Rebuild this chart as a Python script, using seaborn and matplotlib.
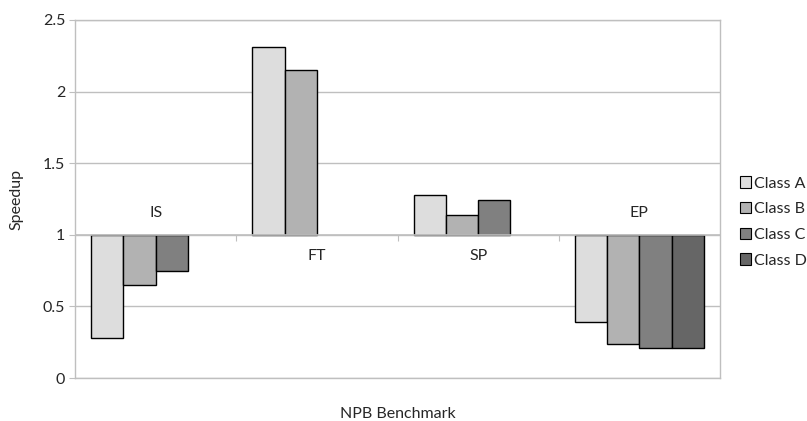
import numpy as np
import pandas as pd
import matplotlib
matplotlib.use("Agg")
import matplotlib.pyplot as plt
from matplotlib.patches import Patch
import seaborn as sns

benchmarks = ["IS", "FT", "SP", "EP"]
classes = ["Class A", "Class B", "Class C", "Class D"]
class_a = [0.28, 2.31, 1.28, 0.39]
class_b = [0.65, 2.15, 1.135, 0.235]
class_c = [0.75, np.nan, 1.24, 0.212]
class_d = [np.nan, np.nan, np.nan, 0.207]
yticks = [0, 0.5, 1, 1.5, 2, 2.5]
ytick_labels = ["0", "0.5", "1", "1.5", "2", "2.5"]
colors = ["#dddddd", "#b2b2b2", "#808080", "#666666"]
baseline = 1.0

rows = []
for cls, vals in zip(classes, [class_a, class_b, class_c, class_d]):
    for b, v in zip(benchmarks, vals):
        if not np.isnan(v):
            rows.append({"Benchmark": b, "Class": cls, "Speedup": v, "Delta": v - baseline})
df = pd.DataFrame(rows)

sns.set_style("white")
plt.rcParams["font.family"] = ["Lato", "DejaVu Sans"]
FS = 11.5

fig = plt.figure(figsize=(8.07, 4.21), dpi=100)
ax = fig.add_axes([75 / 807, 43 / 421, 645 / 807, 358 / 421])

sns.barplot(data=df, x="Benchmark", y="Delta", hue="Class", order=benchmarks,
            hue_order=classes, palette=colors, saturation=1, width=0.8,
            errorbar=None, edgecolor="black", linewidth=1.0, bottom=baseline,
            ax=ax, legend=False, zorder=3)

ax.set_ylim(0, 2.5)
ax.set_xlim(-0.5, 3.5)
ax.set_yticks(yticks)
ax.set_yticklabels(ytick_labels, fontsize=FS)
ax.yaxis.grid(True, color="#bfbfbf", linewidth=1.0, zorder=0)
ax.set_axisbelow(True)
ax.tick_params(axis="y", which="both", left=True, length=4, color="#bfbfbf", pad=3)
ax.set_xticks([])
ax.set_xlabel("NPB Benchmark", fontsize=FS, labelpad=21)
ax.set_ylabel("Speedup", fontsize=FS, labelpad=14)
for s in ax.spines.values():
    s.set_color("#bfbfbf")
    s.set_linewidth(1.0)

# category axis crossing at y = 1
ax.axhline(baseline, color="#bfbfbf", linewidth=1.2, zorder=4)
sec = ax.secondary_xaxis(baseline / 2.5)
sec.set_xticks([0.5, 1.5, 2.5])
sec.set_xticklabels([])
sec.tick_params(axis="x", direction="out", length=4, color="#bfbfbf")
sec.spines["bottom"].set_visible(False)
sec.spines["top"].set_visible(False)

label_pos = {"IS": 1.15, "FT": 0.85, "SP": 0.85, "EP": 1.15}
for i, b in enumerate(benchmarks):
    ax.text(i, label_pos[b], b, ha="center", va="center", fontsize=FS, zorder=5)

handles = [Patch(facecolor=c, edgecolor="black", linewidth=0.8, label=l)
           for c, l in zip(colors, classes)]
leg = ax.legend(handles=handles, loc="center left",
                bbox_to_anchor=(740 / 807, (421 - 222) / 421),
                bbox_transform=fig.transFigure, frameon=False, fontsize=FS,
                handlelength=0.7, handleheight=0.7, handletextpad=0.2,
                labelspacing=0.72, borderaxespad=0, borderpad=0)

fig.savefig("out.png", dpi=100)
